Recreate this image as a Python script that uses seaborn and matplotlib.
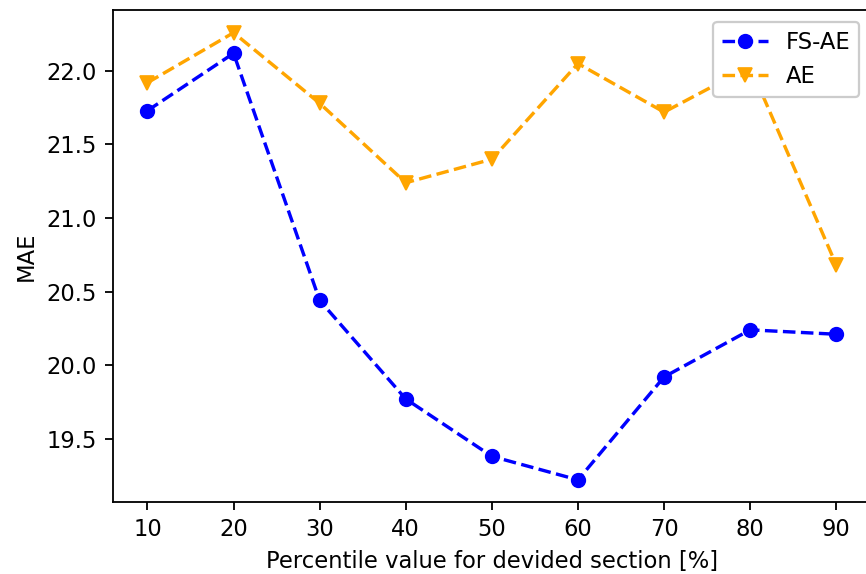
import matplotlib
matplotlib.use("Agg")
import matplotlib.pyplot as plt
import seaborn as sns

percentiles = [10, 20, 30, 40, 50, 60, 70, 80, 90]
fs_ae = [21.73, 22.12, 20.44, 19.77, 19.38, 19.22, 19.92, 20.24, 20.21]
ae = [21.92, 22.26, 21.78, 21.24, 21.40, 22.05, 21.72, 22.03, 20.68]

sns.set_style("ticks", rc={"text.color": "black", "axes.labelcolor": "black",
                           "xtick.color": "black", "ytick.color": "black",
                           "axes.edgecolor": "black"})
plt.rcParams['font.family'] = ['DejaVu Sans']
plt.rcParams['font.size'] = 10

DPI = 163
fig, ax = plt.subplots(figsize=(866 / DPI, 574 / DPI), dpi=DPI)
fig.subplots_adjust(left=0.1305, right=1.0055, top=0.982, bottom=0.125)

sns.lineplot(x=percentiles, y=fs_ae, ax=ax, color="blue", linestyle="--",
             linewidth=1.5, marker="o", markersize=6, markeredgecolor="blue",
             label="FS-AE")
sns.lineplot(x=percentiles, y=ae, ax=ax, color="orange", linestyle="--",
             linewidth=1.5, marker="v", markersize=6, markeredgecolor="orange",
             label="AE")

ax.set_xticks(percentiles)
ax.set_xlabel("Percentile value for devided section [%]")
ax.set_ylabel("MAE")
for s in ax.spines.values():
    s.set_visible(True)
    s.set_color("black")
ax.legend(loc="upper right", framealpha=1.0)
fig.savefig("out.png", dpi=DPI)
